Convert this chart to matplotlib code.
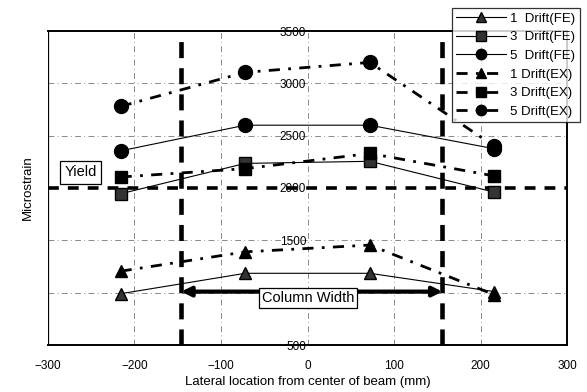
import matplotlib
matplotlib.use("Agg")
import matplotlib.pyplot as plt

plt.rcParams['font.family'] = ['Liberation Sans', 'DejaVu Sans']

x = [-216, -72, 72, 216]
fe1 = [990, 1185, 1185, 1010]
fe3 = [1945, 2235, 2255, 1960]
fe5 = [2355, 2600, 2600, 2375]
ex1 = [1205, 1390, 1455, 980]
ex3 = [2105, 2185, 2330, 2115]
ex5 = [2780, 3105, 3200, 2400]
labels = ["1  Drift(FE)", "3  Drift(FE)", "5  Drift(FE)",
          "1 Drift(EX)", "3 Drift(EX)", "5 Drift(EX)"]
yield_strain = 2000
col_left, col_right = -146, 156
xticks = [-300, -200, -100, 0, 100, 200, 300]
yticks = [500, 1000, 1500, 2000, 2500, 3000, 3500]
ytick_labels = ['500', '', '1500', '2000', '2500', '3000', '3500']

fig = plt.figure(figsize=(5.87, 3.92), dpi=100)
ax = fig.add_axes([48/587, 47/392, 519/587, 314/392])
ax.set_xlim(-300, 300)
ax.set_ylim(500, 3500)

grid_kw = dict(color='#777777', lw=0.6, linestyle=(0, (7, 4, 1, 4)), zorder=0)
for yv in [1000, 1500, 2500, 3000]:
    ax.axhline(yv, **grid_kw)
for xv in [-200, -100, 0, 100, 200]:
    ax.axvline(xv, **grid_kw)

# yield line
ax.axhline(yield_strain, color='black', lw=2.6, linestyle=(0, (3, 2.5)), zorder=2)
# column lines
for xv in (col_left, col_right):
    ax.axvline(xv, color='black', lw=3.3, linestyle=(0, (3.5, 2.2)), zorder=2)

ms = 9
h = []
h += ax.plot(x, fe1, color='black', lw=0.8, marker='^', ms=ms, mfc='#333333', mec='black', zorder=4)
h += ax.plot(x, fe3, color='black', lw=0.8, marker='s', ms=ms, mfc='#333333', mec='black', zorder=4)
h += ax.plot(x, fe5, color='black', lw=0.8, marker='o', ms=ms+1, mfc='black', mec='black', zorder=4)
ex_ls = (0, (4, 3, 1, 3))
h += ax.plot(x, ex1, color='black', lw=2.0, linestyle=ex_ls, marker='^', ms=ms, zorder=4)
h += ax.plot(x, ex3, color='black', lw=2.0, linestyle=ex_ls, marker='s', ms=ms, zorder=4)
h += ax.plot(x, ex5, color='black', lw=2.0, linestyle=ex_ls, marker='o', ms=ms+1, zorder=4)

# column width arrow
ax.annotate('', xy=(col_right, 1010), xytext=(col_left, 1010),
            arrowprops=dict(arrowstyle='<|-|>', lw=3, color='black',
                            mutation_scale=14, shrinkA=0, shrinkB=0), zorder=3)
ax.text(1, 950, 'Column Width', ha='center', va='center', fontsize=10.5,
        bbox=dict(boxstyle='square,pad=0.2', fc='white', ec='black', lw=0.9), zorder=5)
ax.text(-262, 2150, 'Yield', ha='center', va='center', fontsize=10.5,
        bbox=dict(boxstyle='square,pad=0.3', fc='white', ec='black', lw=0.9), zorder=5)

# axes styling: y tick labels drawn at x = 0
ax.set_xticks(xticks)
ax.set_yticks(yticks)
ax.set_yticklabels(ytick_labels)
ax.spines['left'].set_position(('data', 0))
ax.spines['left'].set_visible(False)
ax.axvline(-300, color='black', lw=1.6, zorder=6)
for s in ['top', 'right', 'bottom']:
    ax.spines[s].set_linewidth(1.4)
ax.tick_params(axis='y', length=0, pad=1, labelsize=8.5)
ax.tick_params(axis='x', length=0, pad=11, labelsize=8.5)
ax.set_xlabel('Lateral location from center of beam (mm)', fontsize=9.5, labelpad=3)
ax.set_ylabel('Microstrain', fontsize=9.5)
ax.yaxis.set_label_coords(-0.027, 0.5)

leg = fig.legend(h, labels, loc='upper right', bbox_to_anchor=(580/587, 384/392),
                 fontsize=9.5, frameon=True, fancybox=False, edgecolor='black',
                 handlelength=3.8, labelspacing=0.48, borderpad=0.35, markerscale=0.75,
                 handletextpad=0.3, borderaxespad=0)
leg.get_frame().set_linewidth(0.9)

fig.savefig('out.png', dpi=100)
